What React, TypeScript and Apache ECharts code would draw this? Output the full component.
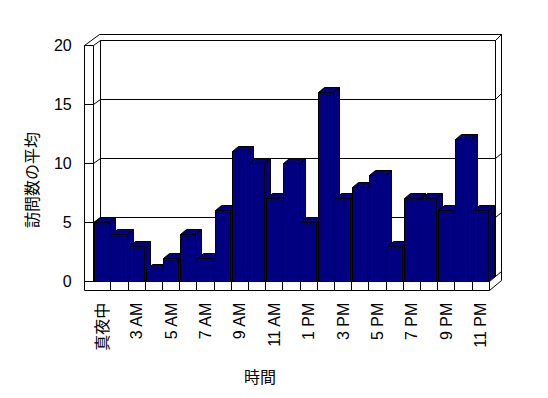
import React, { useEffect, useRef } from "react";
import * as echarts from "echarts";

const categories = [
  "真夜中", "1 AM", "3 AM", "4 AM", "5 AM", "6 AM", "7 AM", "8 AM", "9 AM", "10 AM", "11 AM", "12 PM",
  "1 PM", "2 PM", "3 PM", "4 PM", "5 PM", "6 PM", "7 PM", "8 PM", "9 PM", "10 PM", "11 PM",
];
const visits = [5, 4, 3, 1, 2, 4, 2, 6, 11, 10, 7, 10, 5, 16, 7, 8, 9, 3, 7, 7, 6, 12, 6];
const yTicks = [0, 5, 10, 15, 20];
const yTitle = "訪問数の平均";
const xTitle = "時間";

const FONT = "'Liberation Sans', 'Noto Sans CJK JP', sans-serif";
const NAVY = "#000080";

const c = (v: number) => Math.round(v - 0.5) + 0.5;

export default function App() {
  const ref = useRef<HTMLDivElement>(null);
  useEffect(() => {
    document.body.style.margin = "0";
    const chart = echarts.init(ref.current!, null, { renderer: "svg" });
    const T = 3; // wall thickness... (used below)
    const line = (x1: number, y1: number, x2: number, y2: number) => ({
      type: "line",
      shape: { x1: c(x1), y1: c(y1), x2: c(x2), y2: c(y2) },
      style: { stroke: "#000", lineWidth: 1 },
    });
    const frameRender = (params: any, api: any) => {
      const bw = api.size([1, 0])[0];
      const n = categories.length;
      const L = api.coord([0, 0])[0] - bw / 2;
      const R = api.coord([n - 1, 0])[0] + bw / 2;
      const B = api.coord([0, 0])[1];
      const Tp = api.coord([0, yTicks[yTicks.length - 1]])[1];
      const t = 9;
      const d1x = 6.3, d1y = -5;
      const d2x = 12.4, d2y = -10.3;
      const ch: any[] = [];
      // back wall and right thickness
      ch.push(line(L + d1x, Tp + d1y, R + d1x, Tp + d1y));
      ch.push(line(L - t + 14.8, Tp + d2y, R + d2x, Tp + d2y));
      ch.push(line(R + d1x, Tp + d1y, R + d1x, B + d1y));
      ch.push(line(R + d2x, Tp + d2y, R + d2x, B + t + d2y));
      ch.push(line(R + d1x, Tp + d1y, R + d2x, Tp + d2y));
      ch.push(line(L + d1x, Tp + d1y, L + d1x, B + d1y));
      // grid lines
      yTicks.forEach((v) => {
        const y = api.coord([0, v])[1];
        ch.push(line(L - t, y, L, y));
        ch.push(line(L, y, L + d1x, y + d1y));
        ch.push(line(L + d1x, y + d1y, R + d1x, y + d1y));
        ch.push(line(R + d1x, y + d1y, R + d2x, y + d2y));
      });
      // left wall top outer diagonal
      ch.push(line(L - t, Tp, L - t + 14.8, Tp + d2y));
      // left wall front face
      ch.push(line(L - t, Tp, L - t, B + t));
      ch.push(line(L, Tp, L, B));
      // floor front face
      ch.push(line(L - t, B, R, B));
      ch.push(line(L - t, B + t, R, B + t));
      ch.push(line(R, B, R, B + t));
      ch.push(line(R, B, R + d1x, B + d1y));
      ch.push(line(R, B + t, R + d2x, B + t + d2y));
      for (let k = 1; k < n; k++) {
        const x = L + k * bw;
        ch.push(line(x, B, x, B + t));
      }
      return { type: "group", children: ch };
    };
    const barRender = (params: any, api: any) => {
      const i = api.value(0);
      const v = api.value(1);
      const base = api.coord([i, 0]);
      const top = api.coord([i, v]);
      const bw = api.size([1, 0])[0];
      const w = bw * 0.89;
      const x0 = c(base[0] - w / 2);
      const x1 = c(base[0] + w / 2);
      const y0 = c(base[1]);
      const y1 = c(top[1]);
      const dx = 6, dy = -5;
      const st = { fill: NAVY, stroke: "#000", lineWidth: 1 };
      return {
        type: "group",
        children: [
          {
            type: "polygon",
            shape: { points: [[x1, y1], [x1 + dx, y1 + dy], [x1 + dx, y0 + dy], [x1, y0]] },
            style: st,
          },
          {
            type: "polygon",
            shape: { points: [[x0, y1], [x1, y1], [x1 + dx, y1 + dy], [x0 + dx, y1 + dy]] },
            style: st,
          },
          {
            type: "rect",
            shape: { x: x0, y: y1, width: x1 - x0, height: y0 - y1 },
            style: st,
          },
        ],
      };
    };
    chart.setOption({
      animation: false,
      backgroundColor: "#fff",
      textStyle: { fontFamily: FONT },
      grid: {
        left: 93.7,
        top: 45,
        width: 395.6,
        height: 236.7,
        containLabel: false,
        outerBoundsMode: "none",
      },
      xAxis: {
        type: "category",
        data: categories,
        boundaryGap: true,
        axisLine: { show: false },
        axisTick: { show: false },
        axisLabel: {
          interval: 1,
          rotate: 90,
          margin: 21,
          fontSize: 16,
          color: "#000",
          fontFamily: FONT,
        },
      },
      yAxis: {
        type: "value",
        min: 0,
        max: 20,
        interval: 5,
        axisLine: { show: false },
        axisTick: { show: false },
        splitLine: { show: false },
        axisLabel: { margin: 22, fontSize: 16, color: "#000", fontFamily: FONT },
      },
      graphic: [
        {
          type: "text",
          x: 32,
          y: 180,
          rotation: Math.PI / 2,
          style: {
            text: yTitle,
            fontSize: 16,
            fontFamily: FONT,
            fill: "#000",
            align: "center",
            verticalAlign: "middle",
          },
        },
        {
          type: "text",
          x: 260,
          y: 377,
          style: {
            text: xTitle,
            fontSize: 16,
            fontFamily: FONT,
            fill: "#000",
            align: "center",
            verticalAlign: "middle",
          },
        },
      ],
      series: [
        {
          type: "custom",
          name: "frame",
          renderItem: frameRender,
          data: [[0, 0]],
          silent: true,
          z: 1,
        },
        {
          type: "custom",
          name: "訪問数の平均",
          renderItem: barRender,
          data: visits.map((v, i) => [i, v]),
          z: 2,
        },
      ],
    });
    return () => chart.dispose();
  }, []);
  return <div ref={ref} style={{ width: 548, height: 398 }} />;
}
